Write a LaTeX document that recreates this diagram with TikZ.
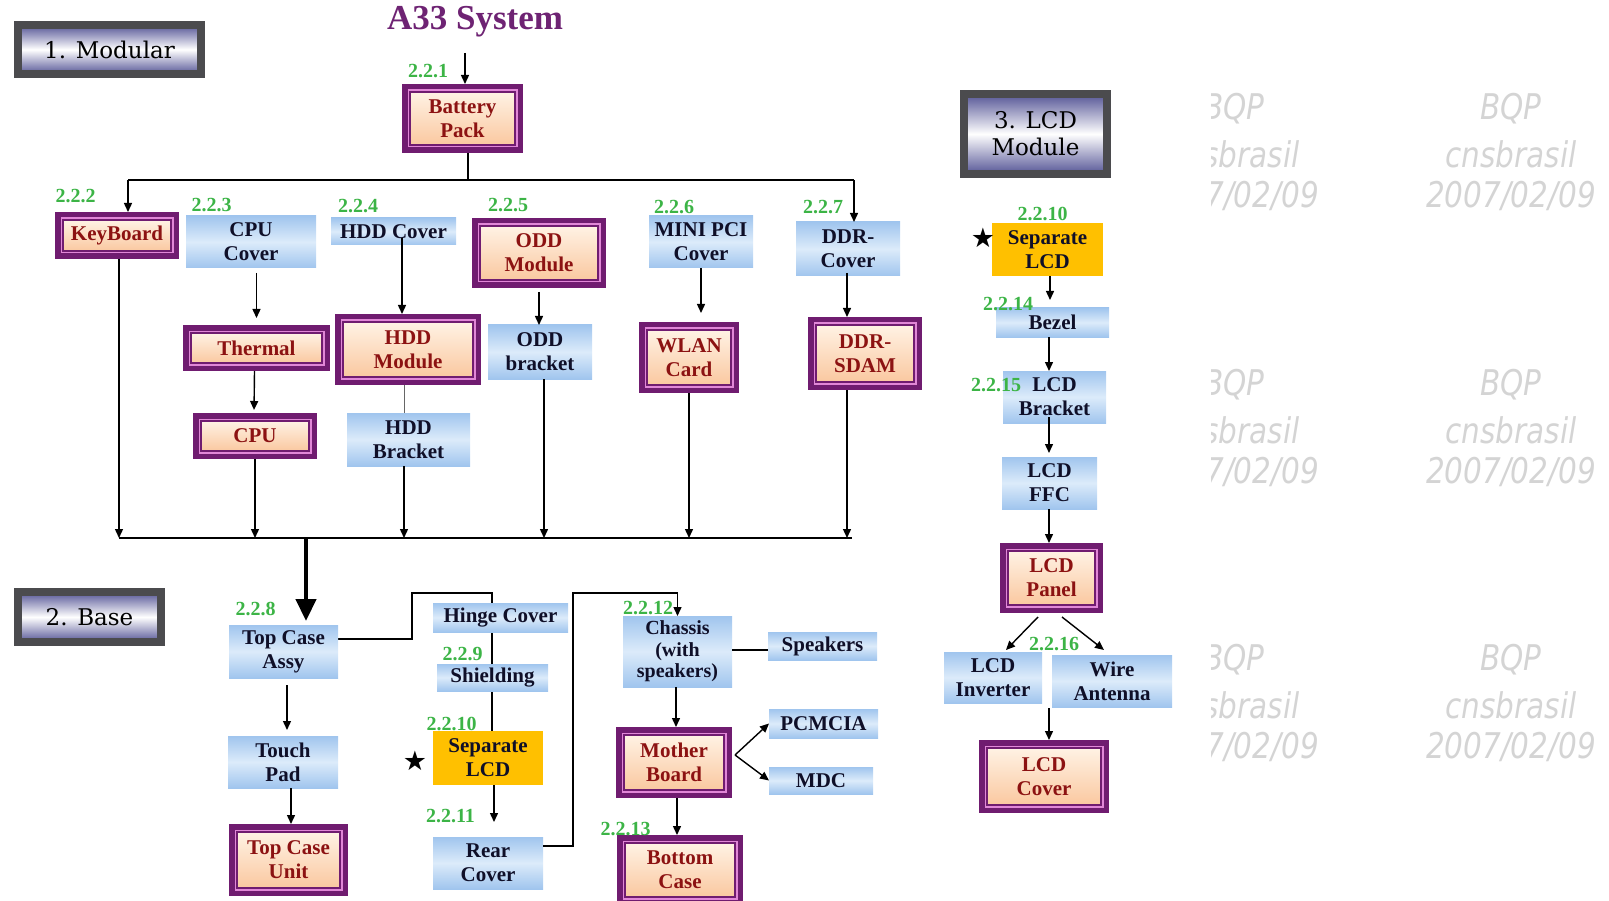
\documentclass[tikz,border=0pt]{standalone}
\usepackage{fontspec}
\setmainfont{Liberation Serif}
\newfontfamily\lblfont{DejaVu Serif}
\newfontfamily\wmfont{DejaVu Sans}
\usetikzlibrary{arrows.meta,backgrounds,calc}
\definecolor{pur}{RGB}{112,28,112}
\definecolor{pinkb}{RGB}{225,135,215}
\definecolor{peachT}{RGB}{255,242,228}
\definecolor{peachB}{RGB}{250,200,160}
\definecolor{txtred}{RGB}{140,18,18}
\definecolor{blueE}{RGB}{160,197,238}
\definecolor{blueM}{RGB}{220,235,250}
\definecolor{gold}{RGB}{255,192,0}
\definecolor{grn}{RGB}{60,180,70}
\definecolor{frameg}{RGB}{75,75,78}
\definecolor{lblb}{RGB}{85,85,150}
\definecolor{ttl}{RGB}{110,35,115}
\definecolor{navy}{RGB}{15,15,40}
\begin{document}
\begin{tikzpicture}[x=1pt,y=-1pt,
  boxtext/.style={font=\fontsize{21}{24}\selectfont\bfseries, align=center, inner sep=0pt},
  pbox/.style={boxtext, rectangle, text=txtred, top color=peachT, bottom color=peachB, draw=pur, line width=1.3pt,
     preaction={draw=pur, line width=16pt}, preaction={draw=pinkb, line width=5pt}, outer sep=8pt},
  bbox/.style={boxtext, rectangle, text=navy, top color=blueE, bottom color=blueE, middle color=blueM, outer sep=0pt},
  gbox/.style={boxtext, rectangle, text=navy, fill=gold},
  lbox/.style={rectangle, font=\lblfont\fontsize{23}{27}\selectfont, align=center, text=black, top color=lblb, bottom color=lblb, middle color=white, draw=frameg, line width=8pt, inner sep=0pt},
  num/.style={text=grn, font=\fontsize{20}{20}\selectfont\bfseries, inner sep=0pt},
  arr/.style={-{Triangle[length=9pt,width=8pt]}, line width=1.4pt, black},
  ln/.style={line width=1.4pt, black},
  star/.style={font=\wmfont\fontsize{27}{27}\selectfont, inner sep=0pt},
  wm/.style={font=\wmfont\itshape\fontsize{29.5}{30}\selectfont, text=black!17, inner sep=0pt}
]
\useasboundingbox (0,0) rectangle (1609,901);

% watermarks
\begin{scope}
\clip (1211,0) rectangle (1609,901);
\foreach \b in {0,276,551}{
  \node[wm] (wmLa\b) at (1234,109+\b) {\scalebox{1}[1.2]{BQP}};
  \node[wm] (wmLb\b) at (1234,154+\b) {\scalebox{1}[1.2]{cnsbrasil}};
  \node[wm] (wmLc\b) at (1234,196+\b) {\scalebox{1}[1.2]{2007/02/09}};
  \node[wm] (wmRa\b) at (1511,109+\b) {\scalebox{1}[1.2]{BQP}};
  \node[wm] (wmRb\b) at (1511,154+\b) {\scalebox{1}[1.2]{cnsbrasil}};
  \node[wm] (wmRc\b) at (1511,196+\b) {\scalebox{1}[1.2]{2007/02/09}};
}
\end{scope}

% title and section labels
\node[font=\fontsize{35}{35}\selectfont\bfseries, text=ttl, inner sep=0pt] (title) at (475,22) {A33 System};
\node[lbox, minimum width=183pt, minimum height=49pt] (lmod) at (109.5,49.5) {1. Modular};
\node[lbox, minimum width=143pt, minimum height=50pt] (lbase) at (89.5,617) {2. Base};
\node[lbox, minimum width=143pt, minimum height=80pt] (llcd) at (1035.5,134) {3. LCD\\Module};

% purple boxes
\node[pbox, minimum width=105pt, minimum height=53pt] (bat) at (462.5,118.5) {Battery\\Pack};
\node[pbox, minimum width=108pt, minimum height=31pt] (kb) at (117,235.5) {KeyBoard};
\node[pbox, minimum width=118pt, minimum height=54pt] (oddm) at (539,253) {ODD\\Module};
\node[pbox, minimum width=131pt, minimum height=30pt] (therm) at (256.5,348) {Thermal};
\node[pbox, minimum width=130pt, minimum height=55pt] (hddm) at (408,349.5) {HDD\\Module};
\node[pbox, minimum width=84pt, minimum height=55pt] (wlan) at (689,357.5) {WLAN\\Card};
\node[pbox, minimum width=98pt, minimum height=57pt] (ddrs) at (865,353.5) {DDR-\\SDAM};
\node[pbox, minimum width=108pt, minimum height=30pt] (cpu) at (255,436) {CPU};
\node[pbox, minimum width=87pt, minimum height=54pt] (panel) at (1051.5,578) {LCD\\Panel};
\node[pbox, minimum width=114pt, minimum height=57pt] (lcdcov) at (1044,776.5) {LCD\\Cover};
\node[pbox, minimum width=103pt, minimum height=56pt] (tcu) at (288.5,860) {Top Case\\Unit};
\node[pbox, minimum width=100pt, minimum height=55pt] (mb) at (674,762.5) {Mother\\Board};
\node[pbox, minimum width=110pt, minimum height=54pt] (bc) at (680,870) {Bottom\\Case};

% blue boxes
\node[bbox, minimum width=130pt, minimum height=52pt] (cpuc) at (251,242) {CPU\\Cover};
\node[bbox, minimum width=125pt, minimum height=27pt] (hddc) at (393.5,231.5) {HDD Cover};
\node[bbox, minimum width=104pt, minimum height=52pt] (mpci) at (701,242) {MINI PCI\\Cover};
\node[bbox, minimum width=104pt, minimum height=54pt] (ddrc) at (848,249) {DDR-\\Cover};
\node[bbox, minimum width=104pt, minimum height=54pt] (oddb) at (540,352) {ODD\\bracket};
\node[bbox, minimum width=123pt, minimum height=53pt] (hddb) at (408.5,439.5) {HDD\\Bracket};
\node[bbox, minimum width=113pt, minimum height=29pt] (bezel) at (1052.5,322.5) {Bezel};
\node[bbox, minimum width=103pt, minimum height=52pt] (lcdbr) at (1054.5,397) {LCD\\Bracket};
\node[bbox, minimum width=95pt, minimum height=52pt] (ffc) at (1049.5,483) {LCD\\FFC};
\node[bbox, minimum width=98pt, minimum height=51pt] (inv) at (993,677.5) {LCD\\Inverter};
\node[bbox, minimum width=120pt, minimum height=52pt] (wire) at (1112,681) {Wire\\Antenna};
\node[bbox, minimum width=109pt, minimum height=53pt] (tca) at (283.5,651.5) {Top Case\\Assy};
\node[bbox, minimum width=110pt, minimum height=52pt] (tp) at (283,762) {Touch\\Pad};
\node[bbox, minimum width=135pt, minimum height=29pt] (hinge) at (500.5,617.5) {Hinge Cover};
\node[bbox, minimum width=111pt, minimum height=27pt] (shield) at (492.5,677.5) {Shielding};
\node[bbox, minimum width=110pt, minimum height=52pt] (rear) at (488,863) {Rear\\Cover};
\node[bbox, minimum width=109pt, minimum height=71pt, font=\fontsize{20}{21.5}\selectfont\bfseries] (chas) at (677.5,651.5) {Chassis\\(with\\speakers)};
\node[bbox, minimum width=109pt, minimum height=28pt] (spk) at (822.5,646) {Speakers};
\node[bbox, minimum width=109pt, minimum height=29pt] (pcm) at (823.5,723.5) {PCMCIA};
\node[bbox, minimum width=104pt, minimum height=27pt] (mdc) at (821,780.5) {MDC};

% gold boxes
\node[gbox, minimum width=111pt, minimum height=53pt] (sepl) at (1047.5,249.5) {Separate\\LCD};
\node[gbox, minimum width=110pt, minimum height=54pt] (sepb) at (488,758) {Separate\\LCD};

% stars
\node[star] (s1) at (983,238) {★};
\node[star] (s2) at (415,761) {★};

% coordinates
\coordinate (topin) at (465,53);
\coordinate (busTL) at (128,180);
\coordinate (busTR) at (854,180);
\coordinate (busBL) at (119,538);
\coordinate (busBR) at (852,538);
\coordinate (busM) at (306,538);
\coordinate (hj) at (492,593);

% top part
\draw[arr] (topin) -- (topin |- bat.north);
\coordinate (bj) at ([xshift=5.5pt]bat.south);
\draw[ln] (bj) -- (bj |- busTL);
\draw[ln] (busTL) -- (busTR);
\draw[arr] (busTL) -- (busTL |- kb.north);
\draw[arr] (busTR) -- (busTR |- ddrc.north);
\draw[arr, shorten <=5pt, shorten >=7pt] (therm.north |- cpuc.south) -- (therm.north);
\coordinate (hc) at ([xshift=8.5pt,yshift=7pt]hddc.south);
\draw[arr] (hc) -- (hc |- hddm.north);
\coordinate (hb) at ([xshift=-4.5pt]hddb.north);
\draw[line width=1pt, black!60] (hb |- hddm.south) -- (hb);
\draw[arr, shorten <=4pt] (oddm.south) -- (oddm.south |- oddb.north);
\draw[arr, shorten >=9pt] (mpci.south) -- (mpci.south |- wlan.north);
\coordinate (dd) at ([xshift=-1pt]ddrc.south);
\draw[arr, shorten <=-3pt] (dd) -- (dd |- ddrs.north);
\draw[arr, shorten >=3pt] ([xshift=-2pt]therm.south) -- ([xshift=-1pt]cpu.north);

% to lower bus
\draw[arr] (busBL |- kb.south) -- (busBL);
\draw[arr] (cpu.south) -- (cpu.south |- busBL);
\coordinate (hb2) at ([xshift=-4.5pt]hddb.south);
\draw[arr] (hb2) -- (hb2 |- busBL);
\coordinate (ob) at ([xshift=4pt]oddb.south);
\draw[arr] (ob) -- (ob |- busBL);
\draw[arr] (wlan.south) -- (wlan.south |- busBL);
\coordinate (ds) at ([xshift=-18pt]ddrs.south);
\draw[arr] (ds) -- (ds |- busBL);
\draw[ln] (busBL) -- (busBR);
\draw[line width=4.5pt, -{Triangle[length=22pt,width=20pt]}, shorten >=4pt] (busM) -- (busM |- tca.north);

% base
\draw[arr, shorten <=7pt, shorten >=6pt] ([xshift=3.5pt]tca.south) -- ([xshift=4pt]tp.north);
\draw[arr] ([xshift=8pt]tp.south) -- ([xshift=2.5pt]tcu.north);
\begin{pgfonlayer}{background}
\draw[line width=1.2pt] ([yshift=12.5pt]tca.east) -- ++(74,0) |- (hj) -- (hj |- sepb.north);
\end{pgfonlayer}
\draw[arr, shorten >=15pt] ([xshift=6pt]sepb.south) -- ([xshift=6pt]rear.north);
\draw[arr] ([yshift=17pt]rear.east) -- ++(30,0) |- ($(chas.north)+(0,-23)$) -- (chas.north);
\coordinate (ce) at ([yshift=1.5pt]chas.east);
\draw[ln] (ce) -- (ce -| spk.west);
\draw[arr] ([xshift=-1.5pt]chas.south) -- ([xshift=2pt]mb.north);
\coordinate (mbe) at ([yshift=7.5pt,xshift=3pt]mb.east);
\draw[arr] (mbe) -- (pcm.west);
\draw[arr] (mbe) -- (mdc.west);
\draw[arr] ([xshift=3pt]mb.south) -- ([xshift=-3pt]bc.north);

% LCD module
\draw[arr, shorten >=8pt] ([xshift=2.5pt]sepl.south) -- ([xshift=-2.5pt]bezel.north);
\draw[arr] ([xshift=-3.5pt]bezel.south) -- ([xshift=-5.5pt]lcdbr.north);
\draw[arr, shorten >=4pt] ([xshift=-5.5pt,yshift=6pt]lcdbr.south) -- ([xshift=-0.5pt]ffc.north);
\draw[arr] ([xshift=-0.5pt]ffc.south) -- ([xshift=-2.5pt]panel.north);
\draw[arr] ([xshift=-13.5pt,yshift=-4pt]panel.south) -- ([xshift=13pt,yshift=2pt]inv.north);
\draw[arr] ([xshift=10.5pt,yshift=-4pt]panel.south) -- ([xshift=-8pt,yshift=5pt]wire.north);
\coordinate (ic) at ([xshift=5pt]lcdcov.north);
\draw[arr] ($(ic |- inv.south)+(0,5)$) -- (ic);

% green numbers
\node[num] (n221) at (428,71) {2.2.1};
\node[num] (n222) at (75.5,196.5) {2.2.2};
\node[num] (n223) at (211.5,205) {2.2.3};
\node[num] (n224) at (358,206.5) {2.2.4};
\node[num] (n225) at (508,205) {2.2.5};
\node[num] (n226) at (674,207) {2.2.6};
\node[num] (n227) at (823,207) {2.2.7};
\node[num] (n2210a) at (1042.5,213.5) {2.2.10};
\node[num] (n2214) at (1008,304) {2.2.14};
\node[num] (n2215) at (996,385.5) {2.2.15};
\node[num] (n2216) at (1054,644.5) {2.2.16};
\node[num] (n228) at (255.5,608.5) {2.2.8};
\node[num] (n229) at (462.5,654) {2.2.9};
\node[num] (n2210b) at (451.5,723.5) {2.2.10};
\node[num] (n2211) at (450.5,816) {2.2.11};
\node[num] (n2212) at (648,608) {2.2.12};
\node[num] (n2213) at (625.5,829) {2.2.13};
\end{tikzpicture}
\end{document}
